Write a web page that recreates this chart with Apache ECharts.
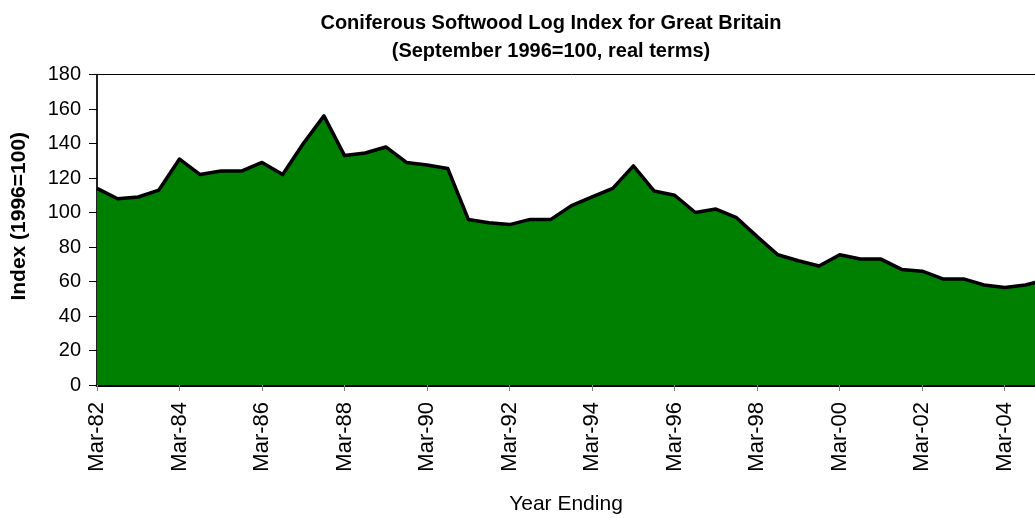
<!DOCTYPE html>
<html>
<head>
<meta charset="utf-8">
<script src="https://cdn.jsdelivr.net/npm/echarts@6/dist/echarts.min.js"></script>
<style>
  html, body { margin: 0; padding: 0; background: #fff; overflow: hidden; }
  /* the plot runs on past the right edge of the window, as in the original */
  #chart { width: 1046px; height: 518px; }
</style>
</head>
<body>
<div id="chart"></div>
<script>
// half-yearly points, Mar-82 .. Mar-05 (the last one falls just past the right edge)
const years = ['82','83','84','85','86','87','88','89','90','91','92','93','94','95','96','97','98','99','00','01','02','03','04','05'];
const categories = [];
years.forEach(y => {
    categories.push('Mar-' + y);
    if (y !== '05') categories.push('Sep-' + y);
});

const indexValues = [
    114, 108, 109, 113, 131, 122, 124, 124, 129, 122,
    140, 156, 133, 134.5, 138, 129, 127.5, 125.5, 96, 94,
    93, 96, 96, 104, 109, 114, 127, 112.5, 110, 100,
    102, 97, 86, 75.5, 72, 69, 75.5, 73, 73, 67,
    66, 61.5, 61.5, 58, 56.5, 58, 61
];

const yTicks = { min: 0, max: 180, interval: 20 };

const chart = echarts.init(document.getElementById('chart'));

const font = 'Liberation Sans, Arial, sans-serif';

chart.setOption({
    animation: false,
    title: {
        text: 'Coniferous Softwood Log Index for Great Britain\n(September 1996=100, real terms)',
        left: 546,
        top: 4,
        textAlign: 'center',
        textStyle: {
            fontFamily: font,
            fontSize: 20,
            fontWeight: 'bold',
            color: '#000',
            lineHeight: 28
        }
    },
    grid: {
        left: 97,
        top: 74.5,
        bottom: 133,
        right: 0,
        outerBoundsMode: 'none',
        show: true,
        borderColor: '#000',
        borderWidth: 1,
        backgroundColor: 'transparent'
    },
    xAxis: {
        type: 'category',
        data: categories,
        boundaryGap: false,
        name: 'Year Ending',
        nameLocation: 'middle',
        nameGap: 109,
        nameTextStyle: { fontFamily: font, fontSize: 21, color: '#000', padding: [0, 11, 0, 0] },
        axisLine: { lineStyle: { color: '#000', width: 3 } },
        axisTick: { interval: 3, length: 6, lineStyle: { color: '#808080', width: 1 } },
        axisLabel: {
            interval: 3,
            rotate: 90,
            margin: 17,
            fontFamily: font,
            fontSize: 22,
            color: '#000'
        },
        splitLine: { show: false }
    },
    yAxis: {
        type: 'value',
        min: yTicks.min,
        max: yTicks.max,
        interval: yTicks.interval,
        name: 'Index (1996=100)',
        nameLocation: 'middle',
        nameGap: 67,
        nameTextStyle: { fontFamily: font, fontSize: 21, fontWeight: 'bold', color: '#000', padding: [0, 0, 0, 27] },
        axisLine: { show: true, lineStyle: { color: '#000', width: 1.5 } },
        axisTick: { show: true, length: 8, lineStyle: { color: '#000', width: 1 } },
        axisLabel: { margin: 16, fontFamily: font, fontSize: 20, color: '#000' },
        splitLine: { show: false }
    },
    series: [{
        type: 'line',
        data: indexValues,
        symbol: 'none',
        lineStyle: { color: '#000', width: 3.5, join: 'round' },
        areaStyle: { color: '#008000', opacity: 1 },
        z: 2
    }]
});
</script>
</body>
</html>
